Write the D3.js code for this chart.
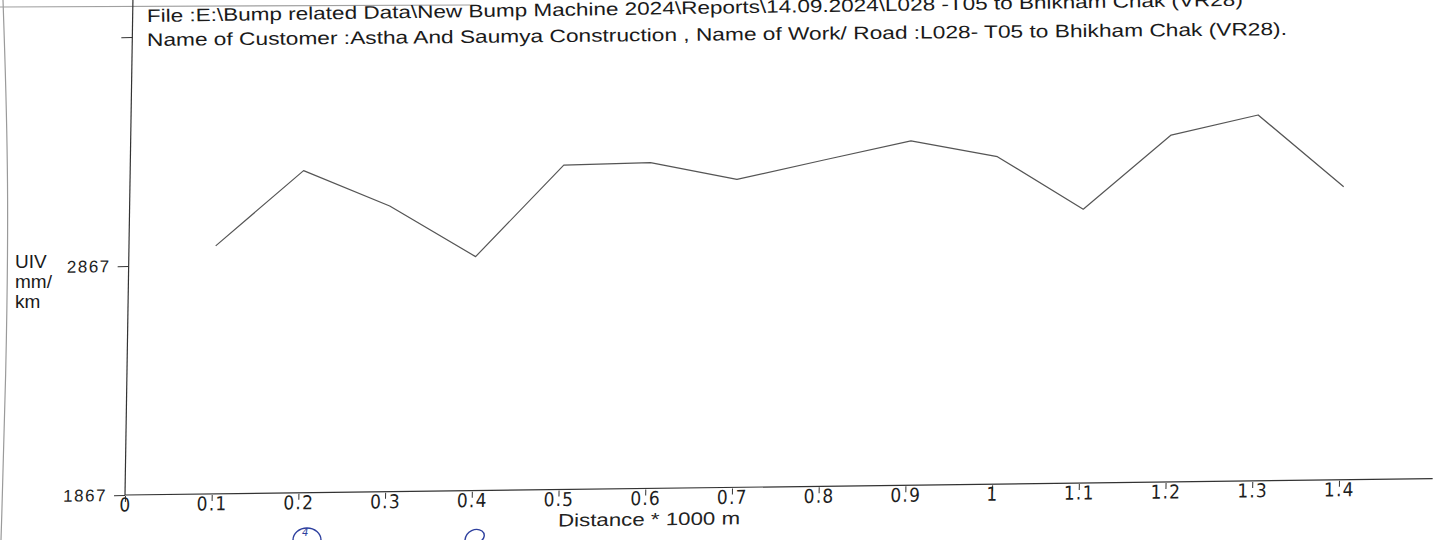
<!DOCTYPE html>
<html><head><meta charset="utf-8">
<script src="https://cdn.jsdelivr.net/npm/d3@7"></script>
<style>html,body{margin:0;padding:0;background:#fff;overflow:hidden}</style>
</head><body>
<svg id="chart" width="1437" height="540"></svg>
<script>
// ---- data ----
const titleLines = [
  "File :E:\\Bump related Data\\New Bump Machine 2024\\Reports\\14.09.2024\\L028 -T05 to Bhikham Chak (VR28)",
  "Name of Customer :Astha And Saumya Construction ,  Name of Work/ Road :L028- T05 to Bhikham Chak (VR28)."
];
const yAxisTitle = ["UIV", "mm/", "km"];
const xAxisTitle = "Distance * 1000 m";
const distances = [0.1, 0.2, 0.3, 0.4, 0.5, 0.6, 0.7, 0.8, 0.9, 1.0, 1.1, 1.2, 1.3, 1.4];
const uivValues = [2950, 3274, 3115, 2889, 3284, 3290, 3212, 3292, 3371, 3297, 3063, 3382, 3465, 3147];
const xTickValues = [0, 0.1, 0.2, 0.3, 0.4, 0.5, 0.6, 0.7, 0.8, 0.9, 1.0, 1.1, 1.2, 1.3, 1.4];
const xTickLabels = ["0", "0.1", "0.2", "0.3", "0.4", "0.5", "0.6", "0.7", "0.8", "0.9", "1", "1.1", "1.2", "1.3", "1.4"];
const yTickValues = [1867, 2867, 3867];
const yTickLabels = ["1867", "2867", ""];

// ---- layout ----
const svg = d3.select("#chart");
const W = 1437, H = 540;
svg.append("rect").attr("width", W).attr("height", H).attr("fill", "#fff");

// scanned-page edges
svg.append("path").attr("d", d3.line().curve(d3.curveBasis)([[3, 0], [9, 180], [6, 380], [1, 540]]))
  .attr("fill", "none").attr("stroke", "#9a9a9a").attr("stroke-width", 1.2);
svg.append("line").attr("x1", 0).attr("x2", 470).attr("y1", 7).attr("y2", 5)
  .attr("stroke", "#a0a0a0").attr("stroke-width", 1.2);

const ox = 125, oy = 495, skewB = -0.0125, skewC = -0.016;
const x = d3.scaleLinear().domain([0, 1.4]).range([0, 1214]);
const y = d3.scaleLinear().domain([1867, 3867]).range([0, -458]);
const xAxisEnd = 1.508;
const yAxisTop = y.invert(-495);

const g = svg.append("g").attr("transform", `matrix(1,${skewB},${skewC},1,${ox},${oy})`);

// x axis
const gx = g.append("g").call(
  d3.axisBottom(x).tickValues(xTickValues).tickSize(7).tickFormat((d, i) => xTickLabels[i])
);
gx.select(".domain").remove();
gx.selectAll(".tick line").attr("stroke", "#333").attr("y1", 1).attr("y2", 7);
gx.selectAll(".tick text").attr("y", 3)
  .attr("font-family", "'Liberation Sans Narrow','DejaVu Sans Condensed',sans-serif")
  .attr("font-size", 19).attr("letter-spacing", 1.2).attr("fill", "#1e1e1e");
g.append("line").attr("x1", x(0)).attr("x2", x(xAxisEnd)).attr("y1", y(1867)).attr("y2", y(1867))
  .attr("stroke", "#333").attr("stroke-width", 1.2);

// y axis
const gy = g.append("g").call(
  d3.axisLeft(y).tickValues(yTickValues).tickSize(11).tickPadding(7).tickFormat((d, i) => yTickLabels[i])
);
gy.select(".domain").remove();
gy.selectAll(".tick line").attr("stroke", "#333");
gy.selectAll(".tick text")
  .attr("font-family", "'Liberation Sans',Arial,sans-serif")
  .attr("font-size", 17).attr("letter-spacing", 1.5).attr("fill", "#1e1e1e");
g.append("line").attr("x1", 0).attr("x2", 0).attr("y1", y(1867)).attr("y2", y(yAxisTop))
  .attr("stroke", "#333").attr("stroke-width", 1.2);

// data line
const pts = distances.map((d, i) => ({ d, v: uivValues[i] }));
g.append("path").datum(pts)
  .attr("d", d3.line().x(p => x(p.d)).y(p => y(p.v)))
  .attr("fill", "none").attr("stroke", "#555").attr("stroke-width", 1.2)
  .attr("stroke-linejoin", "round");

// x axis title
g.append("text").attr("x", x(0.5)).attr("y", 37)
  .attr("font-family", "'Liberation Sans',Arial,sans-serif").attr("font-size", 18)
  .attr("textLength", 182).attr("lengthAdjust", "spacingAndGlyphs")
  .attr("fill", "#222").text(xAxisTitle);

// titles
svg.append("text").attr("x", 147).attr("y", 22).attr("transform", "rotate(-0.85,147,22)")
  .attr("font-family", "'Liberation Sans',Arial,sans-serif").attr("font-size", 18)
  .attr("textLength", 1096).attr("lengthAdjust", "spacingAndGlyphs")
  .attr("fill", "#1a1a1a").text(titleLines[0]);
svg.append("text").attr("x", 147).attr("y", 46).attr("transform", "rotate(-0.55,147,46)")
  .attr("font-family", "'Liberation Sans',Arial,sans-serif").attr("font-size", 18)
  .attr("textLength", 1140).attr("lengthAdjust", "spacingAndGlyphs")
  .attr("fill", "#1a1a1a").text(titleLines[1]);

// y axis title
svg.append("g").selectAll("text").data(yAxisTitle).join("text")
  .attr("x", 15).attr("y", (d, i) => 268 + i * 20)
  .attr("font-family", "'Liberation Sans',Arial,sans-serif").attr("font-size", 19)
  .attr("fill", "#1a1a1a").text(d => d);

// handwritten blue marks
svg.append("ellipse").attr("cx", 307).attr("cy", 540).attr("rx", 14).attr("ry", 12)
  .attr("fill", "none").attr("stroke", "#2d3f9e").attr("stroke-width", 1.4);
svg.append("text").attr("x", 302).attr("y", 536).attr("font-family", "'DejaVu Sans',sans-serif")
  .attr("font-style", "italic").attr("font-size", 10).attr("fill", "#2d3f9e").text("4");
svg.append("path").attr("d", "M465,540 C466,531 476,527 482,531 C486,534 484,539 481,541")
  .attr("fill", "none").attr("stroke", "#2d3f9e").attr("stroke-width", 1.4);
</script>
</body></html>
